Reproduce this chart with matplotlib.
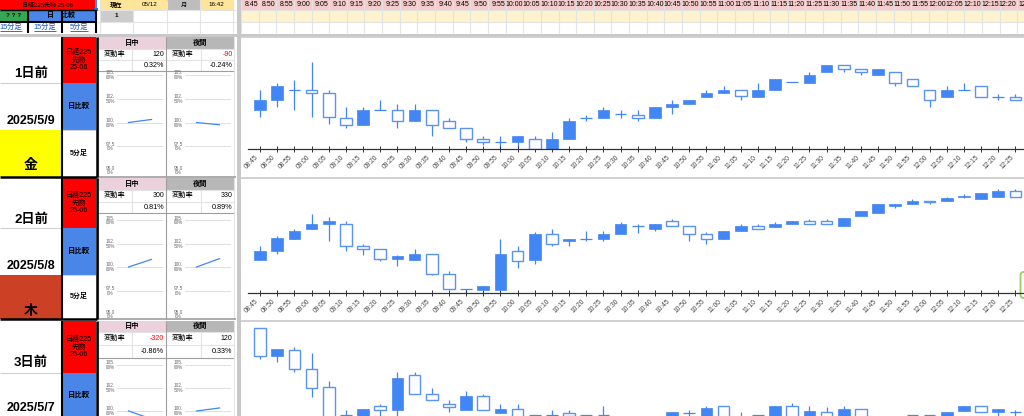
import matplotlib
matplotlib.use("Agg")
import matplotlib.pyplot as plt
import matplotlib.transforms as mtransforms
from matplotlib.patches import Rectangle, FancyBboxPatch
import numpy as np

plt.rcParams["font.family"] = ["Liberation Sans", "Noto Sans CJK JP", "DejaVu Sans"]

W, H = 1024, 416

# 5 minute bars
times = ["08:45", "08:50", "08:55", "09:00", "09:05", "09:10", "09:15", "09:20", "09:25",
         "09:30", "09:35", "09:40", "09:45", "09:50", "09:55", "10:00", "10:05", "10:10",
         "10:15", "10:20", "10:25", "10:30", "10:35", "10:40", "10:45", "10:50", "10:55",
         "11:00", "11:05", "11:10", "11:15", "11:20", "11:25", "11:30", "11:35", "11:40",
         "11:45", "11:50", "11:55", "12:00", "12:05", "12:10", "12:15", "12:20", "12:25"]

# 1日前 2025/5/9
d1_open = [37590, 37650, 37715, 37715, 37695, 37545, 37505, 37590, 37590, 37525, 37590, 37530,
           37485, 37420, 37400, 37400, 37420, 37360, 37420, 37545, 37545, 37570, 37565, 37545,
           37610, 37630, 37670, 37695, 37715, 37670, 37715, 37760, 37755, 37820, 37860, 37840,
           37800, 37820, 37780, 37715, 37670, 37715, 37735, 37670, 37670]
d1_high = [37715, 37755, 37775, 37880, 37710, 37610, 37610, 37650, 37630, 37630, 37590, 37545,
           37485, 37440, 37440, 37440, 37440, 37460, 37545, 37565, 37610, 37590, 37590, 37610,
           37650, 37650, 37715, 37735, 37715, 37755, 37780, 37760, 37820, 37860, 37860, 37840,
           37840, 37820, 37780, 37715, 37735, 37755, 37735, 37690, 37690]
d1_low = [37550, 37610, 37590, 37550, 37510, 37485, 37505, 37590, 37485, 37525, 37440, 37485,
          37400, 37385, 37360, 37370, 37360, 37360, 37420, 37525, 37545, 37545, 37525, 37545,
          37570, 37630, 37670, 37695, 37650, 37670, 37715, 37760, 37755, 37820, 37820, 37800,
          37800, 37735, 37735, 37610, 37670, 37715, 37670, 37650, 37650]
d1_close = [37650, 37735, 37715, 37695, 37550, 37505, 37590, 37590, 37530, 37590, 37505, 37485,
            37420, 37400, 37400, 37440, 37360, 37420, 37525, 37545, 37590, 37570, 37545, 37610,
            37630, 37650, 37695, 37715, 37675, 37715, 37780, 37760, 37800, 37860, 37840, 37820,
            37840, 37755, 37735, 37650, 37715, 37715, 37670, 37670, 37650]

# 2日前 2025/5/8
d2_open = [37000, 37050, 37120, 37180, 37210, 37215, 37080, 37065, 37005, 37000, 37035, 36915,
           36825, 36820, 36820, 37050, 37000, 37150, 37110, 37125, 37120, 37150, 37200, 37185,
           37230, 37200, 37155, 37125, 37170, 37200, 37195, 37215, 37230, 37230, 37200, 37260,
           37275, 37320, 37330, 37350, 37350, 37375, 37360, 37375, 37410]
d2_high = [37080, 37140, 37180, 37270, 37255, 37230, 37090, 37065, 37030, 37065, 37035, 36930,
           36825, 36840, 37125, 37080, 37165, 37180, 37125, 37170, 37170, 37225, 37210, 37215,
           37245, 37200, 37165, 37170, 37210, 37210, 37225, 37230, 37245, 37245, 37250, 37290,
           37330, 37330, 37360, 37350, 37375, 37390, 37395, 37420, 37420]
d2_low = [37000, 37035, 37120, 37180, 37110, 37050, 37030, 36990, 36960, 37000, 36905, 36825,
          36800, 36820, 36820, 36950, 36975, 37080, 37080, 37110, 37110, 37150, 37160, 37170,
          37200, 37110, 37095, 37125, 37170, 37185, 37195, 37215, 37215, 37215, 37200, 37260,
          37275, 37305, 37330, 37330, 37350, 37370, 37360, 37375, 37375]
d2_close = [37050, 37130, 37170, 37215, 37230, 37080, 37065, 37005, 37020, 37035, 36915, 36825,
            36825, 36840, 37035, 36990, 37155, 37090, 37125, 37125, 37155, 37215, 37200, 37215,
            37200, 37155, 37125, 37170, 37200, 37185, 37215, 37230, 37215, 37215, 37250, 37290,
            37330, 37330, 37350, 37345, 37365, 37380, 37395, 37410, 37375]

# 3日前 2025/5/7
d3_open = [37295, 37130, 37165, 37055, 36945, 36775, 36740, 36830, 36810, 37015, 36905, 36845,
           36810, 36890, 36790, 36815, 36775, 36775, 36790, 36775, 36775, 36740, 36730, 36720,
           36740, 36790, 36770, 36830, 36760, 36775, 36750, 36830, 36760, 36795, 36760, 36815,
           36750, 36720, 36775, 36775, 36760, 36800, 36830, 36795, 36795]
d3_high = [37295, 37170, 37185, 37150, 36980, 36805, 36815, 36845, 37035, 37035, 36940, 36865,
           36920, 36900, 36845, 36845, 36775, 36810, 36810, 36775, 36830, 36760, 36750, 36745,
           36795, 36805, 36830, 36830, 36795, 36775, 36830, 36850, 36830, 36825, 36830, 36815,
           36765, 36750, 36775, 36775, 36795, 36830, 36830, 36815, 36810]
d3_low = [37110, 37095, 37035, 36885, 36720, 36740, 36720, 36760, 36760, 36900, 36865, 36795,
          36810, 36810, 36790, 36740, 36775, 36760, 36760, 36775, 36760, 36700, 36690, 36700,
          36720, 36760, 36760, 36740, 36730, 36775, 36740, 36740, 36740, 36740, 36740, 36740,
          36700, 36690, 36775, 36775, 36740, 36800, 36795, 36760, 36760]
d3_close = [37130, 37170, 37050, 36940, 36740, 36775, 36815, 36810, 37000, 36900, 36865, 36825,
            36890, 36810, 36815, 36760, 36775, 36775, 36770, 36775, 36775, 36720, 36710, 36740,
            36795, 36790, 36820, 36760, 36750, 36775, 36830, 36760, 36800, 36765, 36815, 36765,
            36720, 36740, 36775, 36775, 36795, 36830, 36795, 36815, 36795]

day_labels = ["1日前", "2日前", "3日前"]
day_dates = ["2025/5/9", "2025/5/8", "2025/5/7"]
day_weekday = ["金", "木", "水"]
weekday_colors = ["#ffff00", "#cc4125", "#ffff00"]
day_chg = [120, 300, -320]
day_pct = [0.32, 0.81, -0.86]
night_chg = [-90, 330, 120]
night_pct = [-0.24, 0.89, 0.33]
mini_ticks = [95.0, 97.5, 100.0, 102.5, 105.0]
mini_ticklabels = ["95.0\n0%", "97.5\n0%", "100.\n00%", "102.\n50%", "105.\n00%"]

header_info = ["現在", "05/12", "月", "16:42"]

BLUE = "#4285f4"
HOLLOW = "#5b93f5"
RED = "#ff0000"
CELLBLUE = "#4a86e8"
GRID = "#e2e3e3"

fig = plt.figure(figsize=(W / 100, H / 100), dpi=100)
bg = fig.add_axes([0, 0, 1, 1])
bg.set_xlim(0, W)
bg.set_ylim(H, 0)
bg.axis("off")


def px_axes(x0, y0, x1, y1):
    return fig.add_axes([x0 / W, 1 - y1 / H, (x1 - x0) / W, (y1 - y0) / H])


def rect(x0, y0, x1, y1, fc, ec="none", lw=0, z=1):
    bg.add_patch(Rectangle((x0, y0), x1 - x0, y1 - y0, fc=fc, ec=ec, lw=lw, zorder=z))


def hline(y, x0, x1, c=GRID, lw=0.8, z=2):
    bg.plot([x0, x1], [y, y], color=c, lw=lw, zorder=z, solid_capstyle="butt")


def vline(x, y0, y1, c=GRID, lw=0.8, z=2):
    bg.plot([x, x], [y0, y1], color=c, lw=lw, zorder=z, solid_capstyle="butt")


def txt(x, y, s, size=5, ha="center", color="black", weight="normal", **kw):
    if y > H - 4:
        return  # scrolled out of view
    bg.text(x, y, s, ha=ha, va="center", fontsize=size, color=color, fontweight=weight, zorder=5, **kw)


# ---- top frozen rows ----
rect(0, 0, 95, 9.5, RED)
txt(47, 5, "日経225先物 25-06", size=4.3)
vline(95.5, 0, 9.5, c="#1a73e8", lw=1.2, z=4)
rect(93.5, 7.5, 97.5, 11, "#1a73e8", z=4)
cols_top = [(100, 133), (133, 167), (167, 200), (200, 233)]
top_bg = ["#ffe599", "#ffe599", "#bdbdbd", "#ffe599"]
for (x0, x1), s, c in zip(cols_top, header_info, top_bg):
    rect(x0, 0, x1, 9.5, c)
    txt((x0 + x1) / 2, 5, s, size=4.5, weight="bold" if s == "現在" else "normal")
rect(100, 9.5, 133, 21.5, "#cccccc")
txt(116.5, 15.5, "1", size=4.5, weight="bold")
for x in [100, 133, 167, 200, 233]:
    vline(x, 0, 33)
for y in [9.5, 21.5]:
    hline(y, 97, 236)

rect(0, 9.5, 28, 21.5, "#34a853")
txt(14, 15.5, "? ? ?", size=4.5, weight="bold")
rect(28, 9.5, 95, 21.5, CELLBLUE)
txt(61, 15.5, "日　比較", size=5, weight="bold")
for xc, s, w in [(11, "15分足", 22), (45, "15分足", 22), (79, "5分足", 18)]:
    txt(xc, 27.5, s, size=5.2, color="#1155cc")
    hline(31, xc - w / 2, xc + w / 2, c="#1155cc", lw=0.6, z=5)
for x in [28, 62, 95.5]:
    vline(x, 9.5, 33, c="black", lw=1.5, z=4)
hline(21.5, 0, 95.5, c="black", lw=1.5, z=4)
hline(9.5, 0, 95.5, c="black", lw=1.0, z=4)

# time header on the right
col_w = 17.64
for i, t in enumerate(times):
    x0 = 241 + i * col_w
    rect(x0, 0, x0 + col_w, 9.5, "#f4cccc")
    rect(x0, 9.5, x0 + col_w, 21.5, "#fff2cc")
    label = t.lstrip("0")
    if x0 + col_w - 0.7 > W:
        label = label[:-1]  # last column runs past the window edge
    txt(x0 + col_w - 0.7 if x0 + col_w - 0.7 < W else x0 + 1, 5, label, size=5.0,
        ha="right" if x0 + col_w - 0.7 < W else "left")
    vline(x0, 0, 33)
hline(9.5, 240, W)
hline(21.5, 240, W)

# frozen bars
rect(0, 33.5, W, 36.5, "#c8c8c8", z=3)
rect(236.5, 0, 240.5, H, "#c8c8c8", z=3)

# ---- day blocks ----
BLOCKS = [
    dict(top=36.5, bot=176.5, hdr=(36.5, 48.5), r1=48.5, r2=60, r3=71, a_line=83, lab_y=74, date_y=121,
         wd=(130, 176.5), wd_y=165, red=(36.5, 83), blue=(83, 130), grid=(75, 170)),
    dict(top=177.5, bot=319, hdr=(177.5, 190), r1=190, r2=201.5, r3=213, a_line=228, lab_y=220, date_y=266,
         wd=(274.5, 319), wd_y=311, red=(177.5, 228), blue=(228, 274.5), grid=(220, 314)),
    dict(top=320.5, bot=462, hdr=(320.5, 332), r1=332, r2=345, r3=358, a_line=373, lab_y=363, date_y=408,
         wd=(418, 462), wd_y=455, red=(320.5, 373), blue=(373, 418), grid=(365, 457)),
]
CHARTS = [(37.5, 149), (177.5, 293), (320.5, 437)]
CHART_YLIM = [(37360, 38026), (36800, 37490), (36646, 37342)]
ohlc = [(d1_open, d1_high, d1_low, d1_close),
        (d2_open, d2_high, d2_low, d2_close),
        (d3_open, d3_high, d3_low, d3_close)]

for k, b in enumerate(BLOCKS):
    top, bot = b["top"], b["bot"]
    # column A
    txt(31, b["lab_y"], day_labels[k], size=9.5, weight="bold")
    hline(b["a_line"], 0, 62, c="#d0d0d0")
    txt(31, b["date_y"], day_dates[k], size=9, weight="bold")
    rect(0, b["wd"][0], 62, b["wd"][1], weekday_colors[k])
    txt(31, b["wd_y"], day_weekday[k], size=10, weight="bold")
    # column B
    rect(62, b["red"][0], 95.5, b["red"][1], RED)
    txt(79, (b["red"][0] + b["red"][1]) / 2, "日経225\n先物\n25-06", size=5.1, linespacing=1.15)
    rect(62, b["blue"][0], 95.5, b["blue"][1], CELLBLUE)
    txt(79, (b["blue"][0] + b["blue"][1]) / 2, "日比較", size=5.3, weight="bold")
    txt(79, (b["blue"][1] + bot) / 2, "5分足", size=5, weight="bold")
    hline(b["blue"][1], 62, 95.5, c="#d0d0d0")
    vline(62, top, bot, c="black", lw=1.5, z=4)
    vline(96.5, top, bot, c="black", lw=1.8, z=4)
    hline(bot, 0, 97, c="black", lw=1.8, z=4)

    # columns C, D : mini table
    h0, h1 = b["hdr"]
    rect(97.5, h0, 166, h1, "#ead1dc")
    rect(166, h0, 233.5, h1, "#b7b7b7")
    txt(132, (h0 + h1) / 2 + 0.5, "日中", size=5.2, weight="bold")
    txt(200, (h0 + h1) / 2 + 0.5, "夜間", size=5.2, weight="bold")
    ym1 = (b["r1"] + b["r2"]) / 2
    ym2 = (b["r2"] + b["r3"]) / 2
    for x0, chg, pct in [(97.5, day_chg[k], day_pct[k]), (166, night_chg[k], night_pct[k])]:
        txt(x0 + 17, ym1, "変動率", size=5.2)
        txt(x0 + 66.5, ym1, f"{chg}", size=5, ha="right", color=RED if chg < 0 else "black")
        txt(x0 + 66.5, ym2, f"{pct:.2f}%", size=5.2, ha="right")
        vline(x0 + 34.5, b["r1"], b["r3"])
    for y in [b["r1"], b["r2"]]:
        hline(y, 97.5, 233.5)
    hline(b["r3"], 97.5, 233.5, c="#9e9e9e", lw=0.8)
    for x in [97.5, 166, 233.5]:
        vline(x, top, bot, c="#9e9e9e" if x < 200 else GRID, lw=0.8)
    hline(bot, 97, 236, c="#9e9e9e", lw=1.2, z=3)

    # mini line charts
    g0, g1 = b["grid"]
    for x0, pct in [(117, day_pct[k]), (185, night_pct[k])]:
        m = px_axes(x0, g0, x0 + 46, g1)
        m.patch.set_visible(False)
        m.plot([0, 1], [100, 100 + pct], color=BLUE, lw=0.9)
        m.set_xlim(-0.5, 1.5)
        m.set_ylim(95, 105)
        m.set_yticks(mini_ticks)
        m.set_yticklabels(mini_ticklabels, fontsize=3.4, color="#666666", linespacing=0.9,
                          multialignment="center")
        m.tick_params(axis="y", length=0, pad=1.5)
        m.set_xticks([])
        m.grid(axis="y", color="#e0e0e0", lw=0.7)
        for s in m.spines.values():
            s.set_visible(False)
        for lab in m.get_yticklabels():
            # labels scrolled below the window are not drawn
            if (g1 - (lab.get_position()[1] - 95) / 10 * (g1 - g0)) > H - 3:
                lab.set_visible(False)

    # candlestick chart
    cy0, cy1 = CHARTS[k]
    hline(top, 240.5, W, c="#d0d0d0", lw=1.4, z=3)
    ax = px_axes(248, cy0, 1040, cy1)
    ax.patch.set_visible(False)
    o, hi, lo, c = [np.asarray(a, dtype=float) for a in ohlc[k]]
    xs = np.arange(len(o))
    bw = 0.68
    ax.vlines(xs, lo, hi, color=BLUE, lw=0.9, zorder=1)
    for i in xs:
        b0, b1 = min(o[i], c[i]), max(o[i], c[i])
        if b1 - b0 < 1:
            ax.hlines(o[i], i - bw / 2, i + bw / 2, color=BLUE, lw=0.9, zorder=2)
        elif c[i] > o[i]:
            ax.add_patch(Rectangle((i - bw / 2, b0), bw, b1 - b0, fc=BLUE, ec=BLUE, lw=0.5, zorder=2))
        else:
            ax.add_patch(Rectangle((i - bw / 2, b0), bw, b1 - b0, fc="white", ec=HOLLOW, lw=1.0, zorder=2))
    ax.set_xlim(-0.7, 45.43)
    ax.set_ylim(*CHART_YLIM[k])
    for s in ["top", "right", "left"]:
        ax.spines[s].set_visible(False)
    ax.spines["bottom"].set_color("#333333")
    ax.spines["bottom"].set_linewidth(0.9)
    ax.set_yticks([])
    ax.set_xticks(xs)
    if cy1 < H:
        ax.set_xticklabels(times, rotation=45, ha="right", fontsize=4.8, color="#444444")
        off = mtransforms.ScaledTranslation(4 / 100, 0, fig.dpi_scale_trans)
        for lab in ax.get_xticklabels():
            lab.set_transform(lab.get_transform() + off)
    else:
        ax.set_xticklabels([])
    ax.tick_params(axis="x", direction="inout", length=4.5, width=0.7, color="#333333", pad=1.5)

# small green box at right edge
bg.add_patch(FancyBboxPatch((1020.5, 272), 20, 26, boxstyle="round,pad=0,rounding_size=3",
                            fc="white", ec="#9ccc65", lw=1.3, zorder=6))

fig.savefig("out.png", dpi=100)
